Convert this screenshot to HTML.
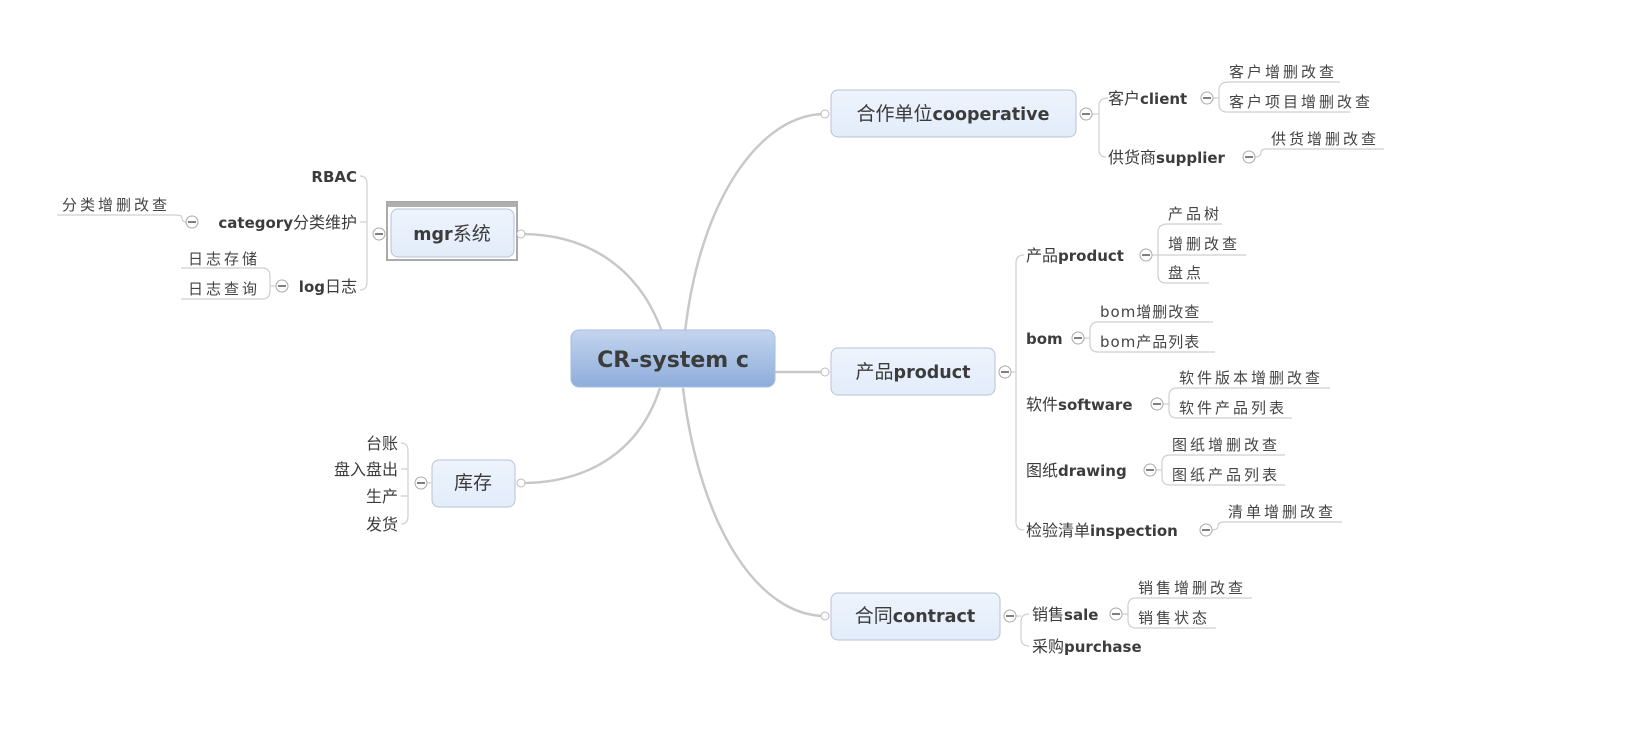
<!DOCTYPE html>
<html><head><meta charset="utf-8"><style>
html,body{margin:0;padding:0;background:#fff;width:1640px;height:749px;overflow:hidden}
svg text{font-family:"DejaVu Sans","Noto Sans CJK SC",sans-serif;fill:#3c3c3c}
.b{font-size:16px}
.b tspan.e{font-weight:bold;font-size:15px}
.l{font-size:15px;letter-spacing:3px;fill:#444}
.m{font-size:19px}
.m tspan.e{font-weight:bold;font-size:17.5px}
</style></head><body>
<svg width="1640" height="749" xmlns="http://www.w3.org/2000/svg">
<defs>
<linearGradient id="g" x1="0" y1="0" x2="0" y2="1"><stop offset="0" stop-color="#c4d5ee"/><stop offset="1" stop-color="#8eaddb"/></linearGradient>
<linearGradient id="n" x1="0" y1="0" x2="0" y2="1"><stop offset="0" stop-color="#eef4fd"/><stop offset="1" stop-color="#e2ecfa"/></linearGradient>
</defs>
<g fill="none" stroke="#c8c8c8" stroke-width="2.5">
<path d="M685,332 C700,200 760,114 825,114"/>
<path d="M662,332 C640,270 590,234 521,234"/>
<path d="M660,388 C640,450 590,483 521,483"/>
<path d="M683,388 C700,530 760,616 825,616"/>
<path d="M775,372 L825,372"/>
</g>
<g fill="none" stroke="#cfcfcf" stroke-width="1.2">
<path d="M1092,114 L1099,114 M1108,98 Q1099,98 1099,106 L1099,150 Q1099,157 1106,157"/>
<path d="M1213,98 L1219,98 M1229,82 Q1219,82 1219,90 L1219,104 Q1219,112 1227,112 L1350,112 M1227,82 L1340,82"/>
<path d="M1255,157 Q1261,157 1261,152 Q1261,149 1266,149 L1384,149"/>
<path d="M1011,372 L1016,372 M1024,255 Q1016,255 1016,263 L1016,522 Q1016,530 1024,530"/>
<path d="M1152,255 L1246,255 M1168,224 Q1158,224 1158,232 L1158,275 Q1158,283 1166,283 L1209,283 M1166,224 L1222,224"/>
<path d="M1084,338 L1090,338 M1098,322 Q1090,322 1090,330 L1090,344 Q1090,352 1098,352 L1215,352 M1098,322 L1213,322"/>
<path d="M1163,404 L1169,404 M1177,388 Q1169,388 1169,396 L1169,410 Q1169,418 1177,418 L1292,418 M1177,388 L1330,388"/>
<path d="M1156,470 L1162,470 M1170,455 Q1162,455 1162,463 L1162,477 Q1162,485 1170,485 L1285,485 M1170,455 L1285,455"/>
<path d="M1212,530 Q1218,530 1218,526 Q1218,522 1224,522 L1342,522"/>
<path d="M1016,616 L1021,616 M1029,614 Q1021,614 1021,622 L1021,638 Q1021,646 1029,646"/>
<path d="M1122,614 L1128,614 M1136,598 Q1128,598 1128,606 L1128,620 Q1128,628 1136,628 L1216,628 M1136,598 L1252,598"/>
<path d="M385,234 L373,234 M360,176 Q367,176 367,184 L367,282 Q367,290 360,290 M367,222 L360,222"/>
<path d="M186,222 Q182,222 182,218 Q182,215 176,215 L57,215"/>
<path d="M276,286 L270,286 M262,268 Q270,268 270,276 L270,291 Q270,299 262,299 L181,299 M262,268 L181,268"/>
<path d="M431,483 L427,483 M401,443 Q408,443 408,451 L408,516 Q408,524 401,524 M408,469 L401,469 M408,496 L401,496"/>
</g>
<rect x="571" y="330" width="204" height="57" rx="8" fill="url(#g)" stroke="#a6bde0"/>
<text x="673" y="367" text-anchor="middle" font-weight="bold" font-size="22">CR-system c</text>
<g stroke="#b8c2d2" fill="url(#n)">
<rect x="831" y="90" width="245" height="47" rx="7"/>
<rect x="831" y="348" width="164" height="47" rx="7"/>
<rect x="831" y="593" width="169" height="47" rx="7"/>
<rect x="432" y="460" width="83" height="47" rx="7"/>
</g>
<rect x="387" y="202" width="130" height="58" fill="#fff" stroke="#aaa" stroke-width="2"/>
<rect x="388" y="203" width="128" height="4" fill="#b0b0b0"/>
<rect x="391" y="209" width="123" height="48" rx="7" fill="url(#n)" stroke="#b8c2d2"/>
<text class="m" x="953" y="120" text-anchor="middle">合作单位<tspan class="e">cooperative</tspan></text>
<text class="m" x="913" y="378" text-anchor="middle">产品<tspan class="e">product</tspan></text>
<text class="m" x="915" y="622" text-anchor="middle">合同<tspan class="e">contract</tspan></text>
<text class="m" x="473" y="489" text-anchor="middle">库存</text>
<text class="m" x="452" y="240" text-anchor="middle"><tspan class="e">mgr</tspan>系统</text>
<g fill="#fff" stroke="#bbb">
<circle cx="825" cy="114" r="4"/><circle cx="825" cy="372" r="4"/><circle cx="825" cy="616" r="4"/>
<circle cx="521" cy="234" r="4"/><circle cx="521" cy="483" r="4"/>
</g>
<g fill="#fff" stroke="#aaa">
<circle cx="1086" cy="114" r="6"/><circle cx="1005" cy="372" r="6"/><circle cx="1010" cy="616" r="6"/>
<circle cx="379" cy="234" r="6"/><circle cx="421" cy="483" r="6"/>
<circle cx="1207" cy="98" r="6"/><circle cx="1249" cy="157" r="6"/>
<circle cx="1146" cy="255" r="6"/><circle cx="1078" cy="338" r="6"/><circle cx="1157" cy="404" r="6"/>
<circle cx="1150" cy="470" r="6"/><circle cx="1206" cy="530" r="6"/><circle cx="1116" cy="614" r="6"/>
<circle cx="192" cy="222" r="6"/><circle cx="282" cy="286" r="6"/>
</g>
<g stroke="#333" stroke-width="1.3">
<path d="M1082,114h8M1001,372h8M1006,616h8M375,234h8M417,483h8M1203,98h8M1245,157h8M1142,255h8M1074,338h8M1153,404h8M1146,470h8M1202,530h8M1112,614h8M188,222h8M278,286h8"/>
</g>
<text class="b" x="1108" y="104">客户<tspan class="e">client</tspan></text>
<text class="b" x="1108" y="163">供货商<tspan class="e">supplier</tspan></text>
<text class="b" x="1026" y="261">产品<tspan class="e">product</tspan></text>
<text class="b" x="1026" y="344"><tspan class="e">bom</tspan></text>
<text class="b" x="1026" y="410">软件<tspan class="e">software</tspan></text>
<text class="b" x="1026" y="476">图纸<tspan class="e">drawing</tspan></text>
<text class="b" x="1026" y="536">检验清单<tspan class="e">inspection</tspan></text>
<text class="b" x="1032" y="620">销售<tspan class="e">sale</tspan></text>
<text class="b" x="1032" y="652">采购<tspan class="e">purchase</tspan></text>
<text class="b" x="357" y="182" text-anchor="end"><tspan class="e">RBAC</tspan></text>
<text class="b" x="357" y="228" text-anchor="end"><tspan class="e">category</tspan>分类维护</text>
<text class="b" x="357" y="292" text-anchor="end"><tspan class="e">log</tspan>日志</text>
<text class="b" x="398" y="449" text-anchor="end">台账</text>
<text class="b" x="398" y="475" text-anchor="end">盘入盘出</text>
<text class="b" x="398" y="502" text-anchor="end">生产</text>
<text class="b" x="398" y="530" text-anchor="end">发货</text>
<text class="l" x="1229" y="77">客户增删改查</text>
<text class="l" x="1229" y="107">客户项目增删改查</text>
<text class="l" x="1271" y="144">供货增删改查</text>
<text class="l" x="1168" y="219">产品树</text>
<text class="l" x="1168" y="249">增删改查</text>
<text class="l" x="1168" y="278">盘点</text>
<text class="l" x="1100" y="317" style="letter-spacing:1px">bom增删改查</text>
<text class="l" x="1100" y="347" style="letter-spacing:1px">bom产品列表</text>
<text class="l" x="1179" y="383">软件版本增删改查</text>
<text class="l" x="1179" y="413">软件产品列表</text>
<text class="l" x="1172" y="450">图纸增删改查</text>
<text class="l" x="1172" y="480">图纸产品列表</text>
<text class="l" x="1228" y="517">清单增删改查</text>
<text class="l" x="1138" y="593">销售增删改查</text>
<text class="l" x="1138" y="623">销售状态</text>
<text class="l" x="62" y="210">分类增删改查</text>
<text class="l" x="188" y="264">日志存储</text>
<text class="l" x="188" y="294">日志查询</text>
</svg>
</body></html>
